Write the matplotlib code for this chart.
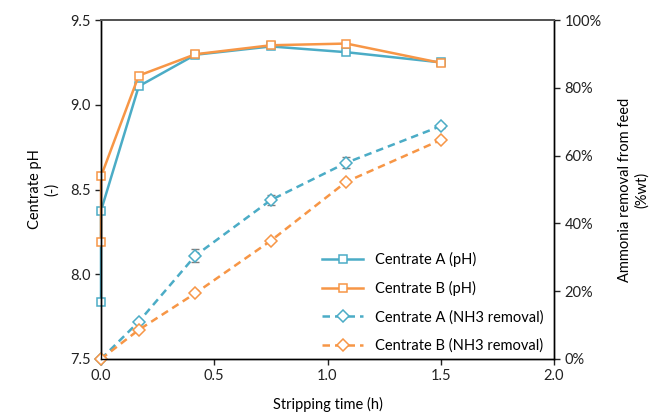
import numpy as np
import matplotlib.pyplot as plt
from matplotlib.ticker import PercentFormatter

plt.rcParams['font.family'] = ['Lato', 'DejaVu Sans']

# stripping time (h); t=0 is repeated for the pH curves (before/after dosing)
t_ph = [0.0, 0.0, 1/6, 5/12, 3/4, 13/12, 1.5]
ph_a = [7.836, 8.375, 9.109, 9.295, 9.344, 9.310, 9.250]
ph_b = [8.19, 8.577, 9.172, 9.298, 9.351, 9.361, 9.247]

t_nh3 = [0.0, 1/6, 5/12, 3/4, 13/12, 1.5]
nh3_a = [0.0, 11.0, 30.5, 46.9, 57.9, 68.7]
nh3_b = [0.0, 8.6, 19.4, 34.9, 52.3, 64.6]
nh3_a_err = [0.0, 0.5, 2.0, 1.5, 1.6, 0.5]

blue = '#4BACC6'
orange = '#F79646'

fig = plt.figure(figsize=(6.56, 4.18), dpi=100)
ax1 = fig.add_axes([101/656, 1 - 359/418, (554 - 101)/656, (359 - 20)/418])
ax2 = ax1.twinx()

l1, = ax1.plot(t_ph, ph_a, '-', color=blue, lw=1.8, marker='s', ms=6,
               mfc='white', mec=blue, mew=1.1, label='Centrate A (pH)', clip_on=False)
l2, = ax1.plot(t_ph, ph_b, '-', color=orange, lw=1.8, marker='s', ms=6,
               mfc='white', mec=orange, mew=1.1, label='Centrate B (pH)', clip_on=False)

ax2.errorbar(t_nh3, nh3_a, yerr=nh3_a_err, fmt='none', ecolor='#7f7f7f',
             elinewidth=1.0, capsize=3, capthick=1.0)
l3, = ax2.plot(t_nh3, nh3_a, '--', color=blue, lw=1.8, dashes=(3, 2), marker='D', ms=6.5,
               mfc='white', mec=blue, mew=1.1, label='Centrate A (NH3 removal)', clip_on=False)
l4, = ax2.plot(t_nh3, nh3_b, '--', color=orange, lw=1.8, dashes=(3, 2), marker='D', ms=6.5,
               mfc='white', mec=orange, mew=1.1, label='Centrate B (NH3 removal)', clip_on=False)

ax1.set_xlim(0, 2.0)
ax1.set_ylim(7.5, 9.5)
ax1.set_xticks([0.0, 0.5, 1.0, 1.5, 2.0])
ax1.set_xticklabels(['0.0', '0.5', '1.0', '1.5', '2.0'])
ax1.set_yticks([7.5, 8.0, 8.5, 9.0, 9.5])
ax1.set_yticklabels(['7.5', '8.0', '8.5', '9.0', '9.5'])
ax2.set_ylim(0, 100)
ax2.set_yticks([0, 20, 40, 60, 80, 100])
ax2.yaxis.set_major_formatter(PercentFormatter(decimals=0))

for ax in (ax1, ax2):
    ax.tick_params(direction='out', length=4, width=1, labelsize=10.5, colors='#222222')
    for s in ax.spines.values():
        s.set_linewidth(1.0)
        s.set_color('black')
    ax.spines['top'].set_color('#555555')
    ax.spines['top'].set_linewidth(1.4)

ax1.set_xlabel('Stripping time (h)', fontsize=10.5, labelpad=10)
ax1.set_ylabel('Centrate pH\n(-)', fontsize=10.5, labelpad=8)
ax2.set_ylabel('Ammonia removal from feed\n(%wt)', fontsize=10.5, labelpad=12)

ax2.legend(handles=[l1, l2, l3, l4], loc='lower right', frameon=False, fontsize=10.5,
           handlelength=2.8, labelspacing=0.95, bbox_to_anchor=(1.005, -0.02))

fig.savefig('out.png', dpi=100)
